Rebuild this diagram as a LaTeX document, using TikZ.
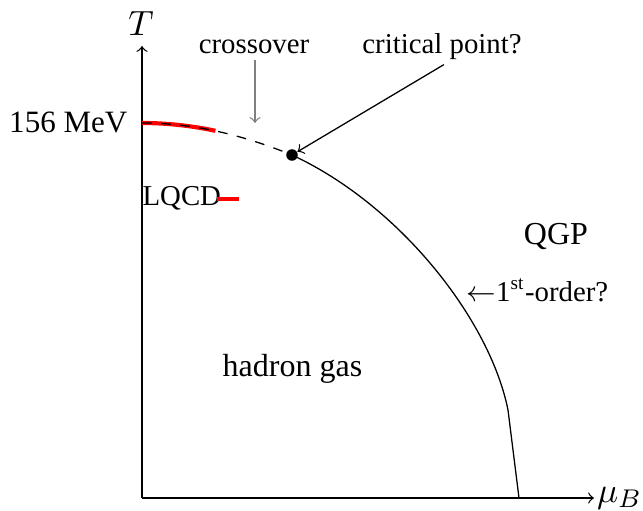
\documentclass[tikz,border=0pt]{standalone}
\usepackage{fontspec}
\setmainfont{Liberation Serif}
\begin{document}
\begin{tikzpicture}[x=0.3125pt,y=-0.3125pt,
  lbl/.style={inner sep=0pt, font=\fontsize{10}{12}\selectfont},
  ann/.style={inner sep=0pt, font=\fontsize{9}{11}\selectfont},
  axisline/.style={->, thin},
  pointer/.style={->, thin},
  lqcd/.style={red, line width=1.3pt},
  cpdotstyle/.style={circle, fill=black, inner sep=0pt, minimum size=3.6pt}]
\useasboundingbox (0,0) rectangle (643,511);
% axes
\coordinate (O) at (142,498);
\coordinate (Ttop) at (142,46);
\coordinate (Xend) at (594,498);
\draw[axisline] (O) -- (Ttop);
\draw[axisline] (O) -- (Xend);
\node[lbl, anchor=base, font=\fontsize{10.5}{12}\selectfont] (Tl) at (141,36) {$T$};
\node[lbl, anchor=west, font=\fontsize{11}{13}\selectfont] (mul) at ([xshift=0.8pt]Xend) {$\mu_B$};
\node[lbl, anchor=base east, font=\fontsize{9.7}{12}\selectfont] (mev) at (128,133) {156 MeV};
% transition line
\coordinate (T0) at (142,123);
\coordinate (cp) at (292,155);
\coordinate (redend) at (215.4,130.8);
\coordinate (kink) at (508,410);
\coordinate (muend) at (519,498);
\draw[lqcd] (T0) .. controls (168.1,123) and (192.6,126.0) .. (redend);
\draw[dashed, thin] (T0) .. controls (200,123) and (250,138) .. (cp);
\draw[thin] (cp) .. controls (400,205) and (490,320) .. (kink) -- (muend);
\node[cpdotstyle] (cpdot) at (cp) {};
% labels
\node[ann, anchor=base] (cross) at (254,54) {crossover};
\coordinate (crossend) at (255,123);
\draw[pointer, gray] ([yshift=-1.5pt]cross.south -| crossend) -- (crossend);
\node[ann, anchor=base] (crit) at (442,54) {critical point?};
\draw[pointer] ([xshift=0.6pt,yshift=-1.2pt]crit.south) -- (cpdot);
\node[lbl, anchor=base] (hg) at (292.5,377) {hadron gas};
\node[lbl, anchor=base] (qgp) at (556,245) {QGP};
\node[ann, anchor=base west] (first) at (466,302) {$\leftarrow$1\textsuperscript{st}-order?};
\node[ann, anchor=base west] (lq) at (142,206) {LQCD};
\coordinate (lqa) at (217,199);
\coordinate (lqb) at (239,199);
\draw[lqcd] (lqa) -- (lqb);
\end{tikzpicture}
\end{document}
